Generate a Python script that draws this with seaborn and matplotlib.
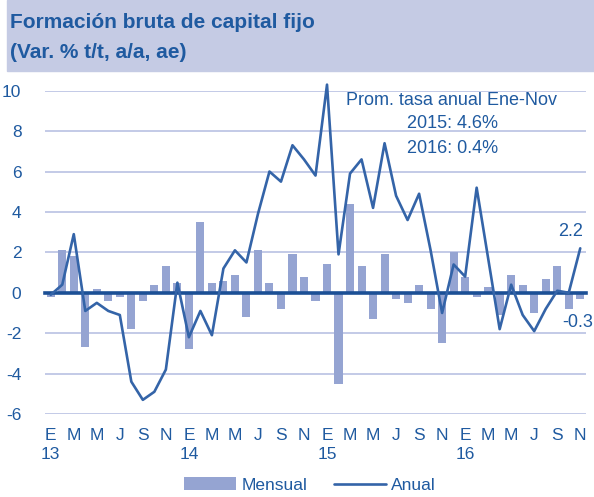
import matplotlib
matplotlib.use("Agg")
import matplotlib.pyplot as plt
from matplotlib.patches import Rectangle
import numpy as np
import pandas as pd
import seaborn as sns

# ---- data ----
month_letters = ["E", "F", "M", "A", "M", "J", "J", "A", "S", "O", "N", "D"]
years = ["13", "14", "15", "16"]
n_months = 47  # Jan 2013 .. Nov 2016

mensual = [
    -0.2, 2.1, 1.8, -2.7, 0.2, -0.4, -0.2, -1.8, -0.4, 0.4, 1.3, 0.5,
    -2.8, 3.5, 0.5, 0.6, 0.9, -1.2, 2.1, 0.5, -0.8, 1.9, 0.8, -0.4,
    1.4, -4.5, 4.4, 1.3, -1.3, 1.9, -0.3, -0.5, 0.4, -0.8, -2.5, 2.0,
    0.8, -0.2, 0.3, -1.1, 0.9, 0.4, -1.0, 0.7, 1.3, -0.8, -0.3,
]
anual = [
    -0.1, 0.4, 2.9, -0.9, -0.5, -0.9, -1.1, -4.4, -5.3, -4.9, -3.8, 0.5,
    -2.2, -0.9, -2.1, 1.2, 2.1, 1.5, 3.9, 6.0, 5.5, 7.3, 6.6, 5.8,
    10.3, 1.9, 5.9, 6.6, 4.2, 7.4, 4.8, 3.6, 4.9, 2.1, -1.0, 1.4,
    0.8, 5.2, 1.7, -1.8, 0.4, -1.1, -1.9, -0.8, 0.1, 0.0, 2.2,
]
yticks = [-6, -4, -2, 0, 2, 4, 6, 8, 10]

title1 = "Formación bruta de capital fijo"
title2 = "(Var. % t/t, a/a, ae)"
note_lines = ["Prom. tasa anual Ene-Nov", "2015: 4.6%", "2016: 0.4%"]

# ---- style ----
sns.set_style("white")
plt.rcParams["font.family"] = ["Liberation Sans", "DejaVu Sans"]
plt.rcParams["axes.unicode_minus"] = False

TXT = "#1F5AA0"
BAR = "#95A4D2"
LINE = "#3464A8"
ZERO = "#1B4F95"
GRID = "#B3BCE0"
BANNER = "#C5CBE4"

df = pd.DataFrame({"idx": np.arange(n_months), "Mensual": mensual, "Anual": anual})

fig = plt.figure(figsize=(5.94, 4.97), dpi=100)
fig.patches.append(Rectangle((7 / 594, 1 - 71 / 497), 1, 71 / 497,
                             transform=fig.transFigure, color=BANNER, zorder=0))
fig.text(10 / 594, 1 - 28 / 497, title1, fontsize=15, fontweight="bold",
         color=TXT, va="baseline", ha="left")
fig.text(10 / 594, 1 - 58 / 497, title2, fontsize=15, fontweight="bold",
         color=TXT, va="baseline", ha="left")

ax = fig.add_axes([45 / 594, 83 / 497, 541 / 594, 323.3 / 497])

sns.barplot(data=df, x="idx", y="Mensual", color=BAR, saturation=1,
            width=0.7, ax=ax, label="Mensual", zorder=1,
            linewidth=0, edgecolor=BAR)
sns.lineplot(data=df, x="idx", y="Anual", color=LINE, linewidth=1.9,
             ax=ax, label="Anual", zorder=4)
for ln in ax.lines:
    ln.set_clip_on(False)

ax.set_xlim(-0.5, n_months - 0.5)
ax.set_ylim(-6, 10)
ax.set_yticks(yticks)
ax.set_yticklabels([str(v) for v in yticks])
ax.tick_params(axis="y", length=0, pad=17, labelsize=12.5, labelcolor=TXT)
for v in yticks:
    if v != 0:
        ax.axhline(v, color=GRID, linewidth=1.1, zorder=0.5)
ax.set_xlabel("")
ax.set_ylabel("")

for s in ["top", "right", "left"]:
    ax.spines[s].set_visible(False)
ax.spines["bottom"].set_position(("data", 0))
ax.spines["bottom"].set_color(ZERO)
ax.spines["bottom"].set_linewidth(2.6)
ax.spines["bottom"].set_zorder(3)
ax.set_xticks(np.arange(-0.5, n_months, 1.0))
ax.tick_params(axis="x", direction="out", length=4, width=1.8, color=ZERO,
               labelbottom=False)

# month / year labels
pos = list(range(0, n_months, 2))
labs = []
for p in pos:
    m = month_letters[p % 12]
    if p % 12 == 0:
        labs.append(m + "\n" + years[p // 12])
    else:
        labs.append(m)
sec = ax.secondary_xaxis("bottom")
sec.set_xticks(pos)
sec.set_xticklabels(labs, linespacing=1.35)
sec.tick_params(length=0, pad=10, labelsize=12.5, labelcolor=TXT)
sec.spines["bottom"].set_visible(False)

# annotations
ax.text(0.556, 0.971, note_lines[0], transform=ax.transAxes, fontsize=13,
        color=TXT, ha="left", va="center")
ax.text(0.669, 0.897, note_lines[1], transform=ax.transAxes, fontsize=13,
        color=TXT, ha="left", va="center")
ax.text(0.669, 0.820, note_lines[2], transform=ax.transAxes, fontsize=13,
        color=TXT, ha="left", va="center")
ax.annotate(f"{anual[-1]:.1f}", (n_months - 1, anual[-1]), xytext=(-7, 12),
            textcoords="offset points", fontsize=13, color=TXT,
            ha="center", va="center")
ax.annotate(f"{mensual[-1]:.1f}", (n_months - 1, mensual[-1]), xytext=(-2, -17),
            textcoords="offset points", fontsize=13, color=TXT,
            ha="center", va="center", annotation_clip=False)

handles, labels = ax.get_legend_handles_labels()
order = [labels.index("Mensual"), labels.index("Anual")]
handles = [handles[i] for i in order]
labels = [labels[i] for i in order]
if ax.get_legend() is not None:
    ax.get_legend().remove()
fig.legend(handles, labels, loc="center", bbox_to_anchor=(310 / 594, 12 / 497),
           ncol=2, frameon=False, fontsize=12.5, handlelength=3.0,
           handletextpad=0.3, columnspacing=1.5, labelcolor=TXT)

fig.savefig("out.png", dpi=100)
